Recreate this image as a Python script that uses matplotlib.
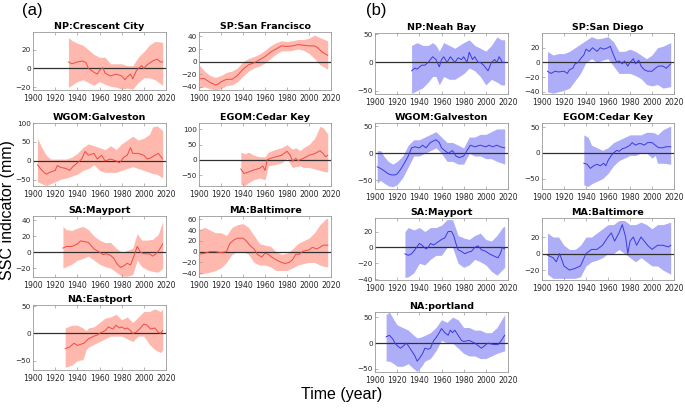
import numpy as np
import matplotlib
matplotlib.use("Agg")
import matplotlib.pyplot as plt

plt.rcParams['font.family'] = ['DejaVu Sans']

# ---------------- data (a) ----------------
np_cc_yr = [1932, 1935, 1940, 1945, 1948, 1950, 1955, 1958, 1960, 1963, 1965, 1970, 1975, 1980, 1983, 1985, 1988, 1990, 1993, 1995, 1998, 2000, 2003, 2008, 2012, 2015, 2017]
np_cc_mean = [7, 5, 7, 8, 6, 0, -4, -6, -2, 1, -5, -8, -6, -8, -12, -9, -6, -11, -3, 0, 3, 0, 4, 8, 10, 7, 7]
np_cc_byr = [1932, 1935, 1940, 1945, 1950, 1955, 1960, 1965, 1970, 1975, 1980, 1985, 1990, 1995, 2000, 2005, 2010, 2017]
np_cc_up = [33, 30, 27, 25, 20, 15, 12, 12, 5, 5, 5, 3, 3, 12, 18, 25, 29, 28]
np_cc_lo = [-20, -18, -14, -12, -15, -18, -14, -17, -19, -20, -22, -21, -22, -15, -10, -10, -12, -18]

sp_sf_yr = [1900, 1905, 1910, 1915, 1918, 1920, 1925, 1930, 1935, 1940, 1945, 1950, 1955, 1960, 1965, 1970, 1975, 1980, 1985, 1990, 1995, 2000, 2005, 2008, 2012, 2017]
sp_sf_mean = [-27, -27, -33, -37, -35, -32, -28, -28, -22, -12, -5, -2, 3, 8, 15, 20, 25, 24, 25, 27, 26, 25, 25, 22, 15, 10]
sp_sf_byr = [1900, 1905, 1910, 1915, 1920, 1925, 1930, 1935, 1940, 1945, 1950, 1955, 1960, 1965, 1970, 1975, 1980, 1985, 1990, 1995, 2000, 2005, 2010, 2017]
sp_sf_up = [-5, -15, -22, -25, -22, -17, -15, -10, 0, 5, 8, 12, 18, 25, 30, 33, 32, 33, 35, 35, 37, 42, 38, 33]
sp_sf_lo = [-42, -40, -43, -45, -43, -38, -37, -32, -23, -15, -10, -7, -2, 5, 12, 17, 17, 18, 20, 18, 13, 5, -5, -12]

wg_r_yr = [1904, 1908, 1912, 1915, 1920, 1922, 1925, 1930, 1933, 1936, 1940, 1944, 1947, 1950, 1955, 1958, 1962, 1965, 1970, 1975, 1978, 1982, 1985, 1988, 1990, 1995, 2000, 2003, 2006, 2010, 2013, 2017]
wg_r_mean = [-10, -25, -35, -30, -25, -12, -17, -20, -25, -15, -5, 5, 25, 15, 20, 5, 15, 0, 5, 0, -5, 10, 15, 35, 20, 20, 15, 5, 8, 15, 20, 5]
wg_r_byr = [1904, 1908, 1912, 1916, 1920, 1925, 1930, 1935, 1940, 1945, 1950, 1955, 1960, 1965, 1970, 1975, 1980, 1985, 1990, 1995, 2000, 2005, 2008, 2012, 2017]
wg_r_up = [60, 35, 15, 5, 5, 5, 5, 10, 20, 35, 45, 40, 35, 30, 40, 30, 45, 55, 65, 55, 60, 70, 90, 92, 80]
wg_r_lo = [-55, -60, -65, -60, -55, -48, -45, -40, -35, -25, -20, -10, -25, -30, -30, -30, -25, -20, -15, -20, -25, -30, -33, -35, -45]

eg_r_yr = [1938, 1941, 1945, 1950, 1955, 1958, 1960, 1962, 1965, 1970, 1975, 1980, 1983, 1985, 1988, 1990, 1995, 2000, 2005, 2010, 2013, 2015, 2017]
eg_r_mean = [-30, -45, -40, -33, -28, -20, -35, 0, 5, 10, 15, 28, 15, -5, 5, -3, 5, 15, 20, 30, 20, 10, 15]
eg_r_byr = [1938, 1942, 1945, 1950, 1955, 1960, 1963, 1970, 1975, 1980, 1983, 1985, 1988, 1992, 1995, 2000, 2005, 2010, 2013, 2017]
eg_r_up = [25, 20, 25, 15, 10, 10, 25, 35, 40, 50, 40, 35, 40, 30, 40, 50, 70, 110, 105, 85]
eg_r_lo = [-80, -85, -75, -65, -60, -65, -20, -15, -10, 5, -15, -25, -22, -20, -25, -25, -30, -35, -38, -40]

sa_r_yr = [1927, 1930, 1935, 1940, 1943, 1947, 1950, 1955, 1960, 1963, 1966, 1970, 1973, 1976, 1979, 1982, 1985, 1988, 1991, 1994, 1997, 2000, 2005, 2008, 2011, 2014, 2017]
sa_r_mean = [5, 7, 7, 10, 14, 13, 12, 4, 0, -3, -2, -4, -8, -15, -19, -17, -14, -16, -5, 7, 0, -2, -2, -5, -2, 3, 10]
sa_r_byr = [1927, 1930, 1935, 1940, 1945, 1950, 1955, 1960, 1965, 1970, 1975, 1980, 1985, 1990, 1994, 1998, 2003, 2008, 2013, 2017]
sa_r_up = [32, 28, 27, 30, 32, 28, 20, 15, 12, 12, 5, 0, 2, 5, 23, 15, 15, 16, 22, 38]
sa_r_lo = [-20, -18, -15, -10, -8, -5, -10, -15, -18, -20, -25, -30, -30, -28, -10, -18, -22, -24, -25, -20]

ma_r_yr = [1900, 1905, 1910, 1915, 1920, 1925, 1928, 1932, 1935, 1940, 1943, 1946, 1950, 1953, 1957, 1960, 1963, 1966, 1970, 1975, 1978, 1982, 1985, 1988, 1991, 1994, 1997, 2000, 2003, 2007, 2010, 2013, 2017]
ma_r_mean = [-5, -3, 0, 0, -2, 0, 15, 22, 25, 25, 20, 12, 5, -5, -10, -3, -5, -10, -15, -20, -22, -20, -15, -5, -5, 0, 2, 3, 8, 5, 8, 12, 12]
ma_r_byr = [1900, 1905, 1910, 1915, 1920, 1925, 1930, 1935, 1940, 1945, 1950, 1955, 1960, 1965, 1970, 1975, 1980, 1985, 1990, 1995, 2000, 2005, 2010, 2015, 2017]
ma_r_up = [40, 45, 40, 35, 35, 30, 45, 50, 52, 45, 30, 15, 12, 10, 0, -5, -3, 5, 15, 20, 25, 35, 50, 60, 62]
ma_r_lo = [-42, -40, -38, -35, -30, -20, -5, 0, 0, -5, -20, -25, -25, -28, -35, -35, -35, -30, -25, -22, -20, -20, -25, -28, -28]

na_r_yr = [1929, 1933, 1937, 1940, 1943, 1946, 1950, 1955, 1958, 1960, 1965, 1968, 1972, 1975, 1978, 1980, 1983, 1985, 1988, 1990, 1993, 1997, 2000, 2003, 2006, 2010, 2013, 2015, 2017]
na_r_mean = [-28, -25, -18, -22, -20, -18, -10, -5, -3, 0, 5, 12, 8, 15, 10, 12, 8, 10, 5, 0, 2, 10, 17, 15, 8, 10, 2, 0, 5]
na_r_byr = [1929, 1935, 1940, 1945, 1948, 1950, 1955, 1960, 1965, 1970, 1975, 1980, 1985, 1990, 1995, 2000, 2005, 2010, 2015, 2017]
na_r_up = [10, 15, 15, 10, 5, 10, 12, 20, 28, 30, 35, 25, 30, 20, 30, 40, 40, 45, 40, 45]
na_r_lo = [-62, -58, -50, -48, -30, -25, -20, -15, -10, -5, -5, -5, -10, -15, -5, -5, -20, -30, -35, -30]

# ---------------- data (b) ----------------
nb_b_yr = [1933, 1936, 1938, 1942, 1945, 1948, 1952, 1955, 1958, 1960, 1962, 1965, 1968, 1972, 1975, 1978, 1980, 1983, 1985, 1988, 1990, 1993, 1995, 1998, 2000, 2002, 2005, 2008, 2010, 2012, 2015, 2017]
nb_b_mean = [-15, -10, -12, -5, -5, 0, 10, 5, -8, 5, 10, 0, 10, 0, 8, 5, 10, 0, 18, 5, 10, 0, 0, -5, -10, -15, 0, 5, 0, 10, 0, 0]
nb_b_byr = [1933, 1938, 1943, 1948, 1952, 1955, 1958, 1962, 1967, 1972, 1976, 1980, 1985, 1990, 1995, 2000, 2005, 2010, 2014, 2017]
nb_b_up = [30, 35, 30, 30, 35, 30, 20, 35, 30, 25, 30, 35, 40, 30, 25, 20, 30, 45, 40, 40]
nb_b_lo = [-55, -50, -45, -35, -25, -25, -40, -25, -30, -30, -25, -20, -10, -15, -25, -40, -30, -35, -40, -40]

sd_b_yr = [1905, 1908, 1912, 1915, 1920, 1923, 1925, 1928, 1930, 1933, 1935, 1938, 1940, 1943, 1946, 1950, 1953, 1956, 1960, 1962, 1965, 1968, 1970, 1973, 1975, 1978, 1980, 1983, 1985, 1988, 1990, 1993, 1996, 2000, 2003, 2006, 2010, 2013, 2017]
sd_b_mean = [-12, -15, -12, -13, -12, -15, -10, -8, -2, 0, 5, 10, 18, 15, 20, 15, 20, 18, 20, 22, 10, 0, 2, -2, 2, -5, 0, 5, -2, 3, -5, -10, -12, -12, -8, -5, -5, -8, -2]
sd_b_byr = [1905, 1910, 1915, 1920, 1925, 1930, 1935, 1940, 1945, 1950, 1955, 1960, 1965, 1970, 1975, 1980, 1985, 1990, 1995, 2000, 2005, 2010, 2017]
sd_b_up = [15, 10, 12, 12, 15, 20, 25, 30, 35, 32, 33, 35, 28, 15, 15, 18, 15, 10, 5, 10, 20, 22, 27]
sd_b_lo = [-40, -42, -40, -38, -35, -25, -15, 0, 5, 0, 3, 5, -5, -15, -15, -15, -18, -22, -30, -32, -30, -35, -33]

wg_b_yr = [1902, 1905, 1908, 1912, 1915, 1918, 1920, 1923, 1926, 1930, 1933, 1936, 1940, 1943, 1946, 1950, 1955, 1958, 1960, 1963, 1966, 1970, 1973, 1976, 1980, 1983, 1986, 1990, 1995, 2000, 2003, 2006, 2010, 2013, 2017]
wg_b_mean = [-25, -28, -32, -38, -40, -40, -38, -30, -20, -5, 10, 12, 10, 15, 10, 20, 25, 20, 10, 5, 0, 5, -5, -8, -5, 5, 15, 12, 15, 12, 15, 12, 15, 12, 10]
wg_b_byr = [1902, 1905, 1908, 1912, 1916, 1920, 1925, 1930, 1935, 1940, 1945, 1950, 1955, 1960, 1965, 1970, 1975, 1980, 1985, 1990, 1995, 2000, 2005, 2010, 2017]
wg_b_up = [5, 5, -5, -15, -20, -15, -5, 15, 25, 25, 30, 35, 40, 30, 20, 20, 15, 10, 30, 30, 35, 35, 40, 45, 45]
wg_b_lo = [-55, -50, -55, -60, -62, -58, -45, -25, -5, -5, 0, 5, 10, 0, -15, -15, -20, -20, 0, -5, -5, -10, -10, -15, -20]

eg_b_yr = [1938, 1941, 1944, 1947, 1950, 1953, 1956, 1958, 1960, 1963, 1965, 1968, 1970, 1973, 1976, 1980, 1982, 1985, 1988, 1990, 1993, 1996, 2000, 2003, 2006, 2010, 2013, 2017]
eg_b_mean = [-20, -22, -30, -25, -22, -25, -20, -25, -15, -5, 0, 5, 3, 8, 10, 15, 20, 15, 18, 18, 15, 20, 20, 15, 10, 10, 12, 12]
eg_b_byr = [1938, 1942, 1945, 1950, 1955, 1960, 1965, 1970, 1975, 1980, 1985, 1990, 1995, 2000, 2003, 2005, 2010, 2017]
eg_b_up = [35, 30, 15, 10, 5, 10, 20, 25, 30, 35, 35, 35, 40, 40, 38, 35, 45, 52]
eg_b_lo = [-62, -65, -60, -55, -50, -40, -25, -15, -10, -5, -5, 0, 0, -10, -5, -20, -20, -22]

sa_b_yr = [1927, 1930, 1933, 1936, 1940, 1943, 1946, 1948, 1950, 1953, 1955, 1958, 1960, 1963, 1966, 1969, 1971, 1973, 1975, 1978, 1981, 1984, 1987, 1990, 1993, 1996, 2000, 2003, 2006, 2009, 2011, 2013, 2015, 2017]
sa_b_mean = [-8, -10, -8, -3, 5, 2, -2, 0, 5, 3, 5, 8, 10, 12, 20, 20, 15, 5, -3, -5, -8, -6, -5, 0, 2, -3, -5, -8, -10, -12, -13, -8, 0, -2]
sa_b_byr = [1927, 1930, 1935, 1940, 1945, 1950, 1955, 1960, 1965, 1970, 1975, 1980, 1985, 1990, 1995, 2000, 2005, 2010, 2015, 2017]
sa_b_up = [20, 25, 22, 25, 20, 25, 25, 28, 35, 35, 15, 12, 10, 15, 18, 10, 8, 15, 25, 27]
sa_b_lo = [-38, -37, -32, -20, -22, -15, -10, -10, 0, 0, -20, -25, -22, -15, -18, -22, -30, -35, -28, -25]

ma_b_yr = [1905, 1910, 1913, 1916, 1920, 1925, 1930, 1935, 1940, 1945, 1950, 1955, 1960, 1963, 1966, 1970, 1973, 1976, 1978, 1980, 1983, 1986, 1990, 1993, 1996, 2000, 2005, 2010, 2015, 2017]
ma_b_mean = [-2, -5, -10, 0, -15, -20, -18, -15, 0, 5, 5, 10, 20, 25, 15, 25, 35, 20, 0, 15, 20, 10, 20, 15, 10, 5, 10, 10, 8, 10]
ma_b_byr = [1905, 1910, 1915, 1920, 1925, 1930, 1935, 1940, 1945, 1950, 1955, 1960, 1965, 1970, 1975, 1980, 1985, 1990, 1995, 2000, 2005, 2010, 2017]
ma_b_up = [25, 20, 20, 10, 5, 5, 10, 20, 20, 25, 30, 35, 35, 40, 40, 35, 35, 38, 35, 30, 35, 35, 38]
ma_b_lo = [-25, -30, -30, -30, -30, -30, -28, -15, -10, -8, -5, 0, 0, 5, 0, -5, -10, -5, -10, -15, -15, -20, -25]

pt_b_yr = [1910, 1913, 1916, 1918, 1920, 1923, 1926, 1928, 1930, 1933, 1936, 1938, 1940, 1943, 1945, 1948, 1950, 1953, 1955, 1958, 1960, 1963, 1966, 1968, 1970, 1972, 1975, 1978, 1980, 1985, 1988, 1990, 1993, 1996, 1999, 2002, 2005, 2008, 2011, 2014, 2017]
pt_b_mean = [12, 15, 8, 0, -5, -10, -5, 0, -5, -15, -25, -35, -30, -20, -10, -12, -10, 5, 10, 20, 28, 20, 15, 25, 20, 25, 15, 5, 3, 5, 2, 0, -5, -10, -5, 0, -2, -3, -3, 5, 15]
pt_b_byr = [1910, 1913, 1917, 1920, 1925, 1930, 1935, 1938, 1942, 1945, 1950, 1955, 1960, 1965, 1970, 1975, 1980, 1985, 1990, 1995, 2000, 2005, 2010, 2017]
pt_b_up = [55, 60, 45, 35, 30, 25, 15, 10, 12, 15, 20, 30, 45, 40, 50, 45, 30, 30, 25, 25, 20, 20, 30, 55]
pt_b_lo = [-35, -35, -40, -45, -45, -40, -50, -55, -45, -35, -30, -15, 5, 0, 0, -10, -20, -25, -25, -30, -30, -25, -20, -15]

# titles, y limits and y ticks
panels_a = [
    ("NP:Crescent City", np_cc_yr, np_cc_mean, np_cc_byr, np_cc_up, np_cc_lo, (-23, 39), [-20, 0, 20]),
    ("SP:San Francisco", sp_sf_yr, sp_sf_mean, sp_sf_byr, sp_sf_up, sp_sf_lo, (-45, 47), [-40, -20, 0, 20, 40]),
    ("WGOM:Galveston", wg_r_yr, wg_r_mean, wg_r_byr, wg_r_up, wg_r_lo, (-66, 100), [-50, 0, 50, 100]),
    ("EGOM:Cedar Key", eg_r_yr, eg_r_mean, eg_r_byr, eg_r_up, eg_r_lo, (-86, 121), [-50, 0, 50, 100]),
    ("SA:Mayport", sa_r_yr, sa_r_mean, sa_r_byr, sa_r_up, sa_r_lo, (-31, 45), [-20, 0, 20, 40]),
    ("MA:Baltimore", ma_r_yr, ma_r_mean, ma_r_byr, ma_r_up, ma_r_lo, (-47, 66), [-40, -20, 0, 20, 40, 60]),
    ("NA:Eastport", na_r_yr, na_r_mean, na_r_byr, na_r_up, na_r_lo, (-67, 52), [-50, 0, 50]),
]
panels_b = [
    ("NP:Neah Bay", nb_b_yr, nb_b_mean, nb_b_byr, nb_b_up, nb_b_lo, (-56, 52), [-50, 0, 50]),
    ("SP:San Diego", sd_b_yr, sd_b_mean, sd_b_byr, sd_b_up, sd_b_lo, (-43, 40), [-40, -20, 0, 20]),
    ("WGOM:Galveston", wg_b_yr, wg_b_mean, wg_b_byr, wg_b_up, wg_b_lo, (-66, 56), [-50, 0, 50]),
    ("EGOM:Cedar Key", eg_b_yr, eg_b_mean, eg_b_byr, eg_b_up, eg_b_lo, (-70, 58), [-50, 0, 50]),
    ("SA:Mayport", sa_b_yr, sa_b_mean, sa_b_byr, sa_b_up, sa_b_lo, (-41, 37), [-40, -20, 0, 20]),
    ("MA:Baltimore", ma_b_yr, ma_b_mean, ma_b_byr, ma_b_up, ma_b_lo, (-32, 43), [-20, 0, 20]),
    ("NA:portland", pt_b_yr, pt_b_mean, pt_b_byr, pt_b_up, pt_b_lo, (-56, 60), [-50, 0, 50]),
]
x_ticks = [1900, 1920, 1940, 1960, 1980, 2000, 2020]

W, H = 685, 411
fig = plt.figure(figsize=(W / 100, H / 100), dpi=100)

def px_axes(x0, y0, x1, y1):
    return fig.add_axes([x0 / W, 1 - y1 / H, (x1 - x0) / W, (y1 - y0) / H])

pos_a = [(33, 32, 166, 90), (199, 32, 331, 90),
         (33, 123, 166, 186), (199, 123, 331, 186),
         (33, 216, 166, 277), (199, 216, 331, 277),
         (33, 305, 166, 370)]
pos_b = [(375, 33, 508, 94), (542, 33, 674, 94),
         (375, 123, 508, 189), (542, 123, 674, 189),
         (375, 218, 508, 280), (542, 218, 674, 280),
         (375, 312, 508, 372)]

def draw(ax, p, fill_c, line_c):
    title, yr, mean, byr, up, lo, ylim, yt = p
    ax.fill_between(byr, lo, up, color=fill_c, lw=0)
    ax.axhline(0, color='#303030', lw=0.9)
    ax.plot(yr, mean, color=line_c, lw=0.7)
    ax.set_xlim(1900, 2020)
    ax.set_ylim(*ylim)
    ax.set_xticks(x_ticks)
    ax.set_yticks(yt)
    ax.tick_params(direction='in', length=2, width=0.5,
                   colors='#9a9a9a', labelcolor='#262626', top=True, right=False)
    ax.tick_params(axis='x', pad=3, labelsize=5.6)
    ax.tick_params(axis='y', pad=1.5, labelsize=5.2)
    for s in ax.spines.values():
        s.set_color('#9a9a9a')
        s.set_linewidth(0.6)
    ax.set_title(title, fontsize=6.8, fontweight='bold', pad=2.5)

for p, pos in zip(panels_a, pos_a):
    draw(px_axes(*pos), p, '#ffb8ae', '#f04a45')
for p, pos in zip(panels_b, pos_b):
    draw(px_axes(*pos), p, '#aeaef8', '#3a3ae0')

big = ['Liberation Sans', 'DejaVu Sans']
fig.text(22 / W, 1 - 10 / H, "(a)", fontsize=12, va='center', ha='left', family=big)
fig.text(366 / W, 1 - 10 / H, "(b)", fontsize=12, va='center', ha='left', family=big)
fig.text(8 / W, 1 - 210 / H, "SSC indicator (mm)", fontsize=11.5, rotation=90,
         va='center', ha='center', family=big)
fig.text(342 / W, 1 - 394 / H, "Time (year)", fontsize=11.5, va='center', ha='center', family=big)

fig.savefig("out.png", dpi=100)
